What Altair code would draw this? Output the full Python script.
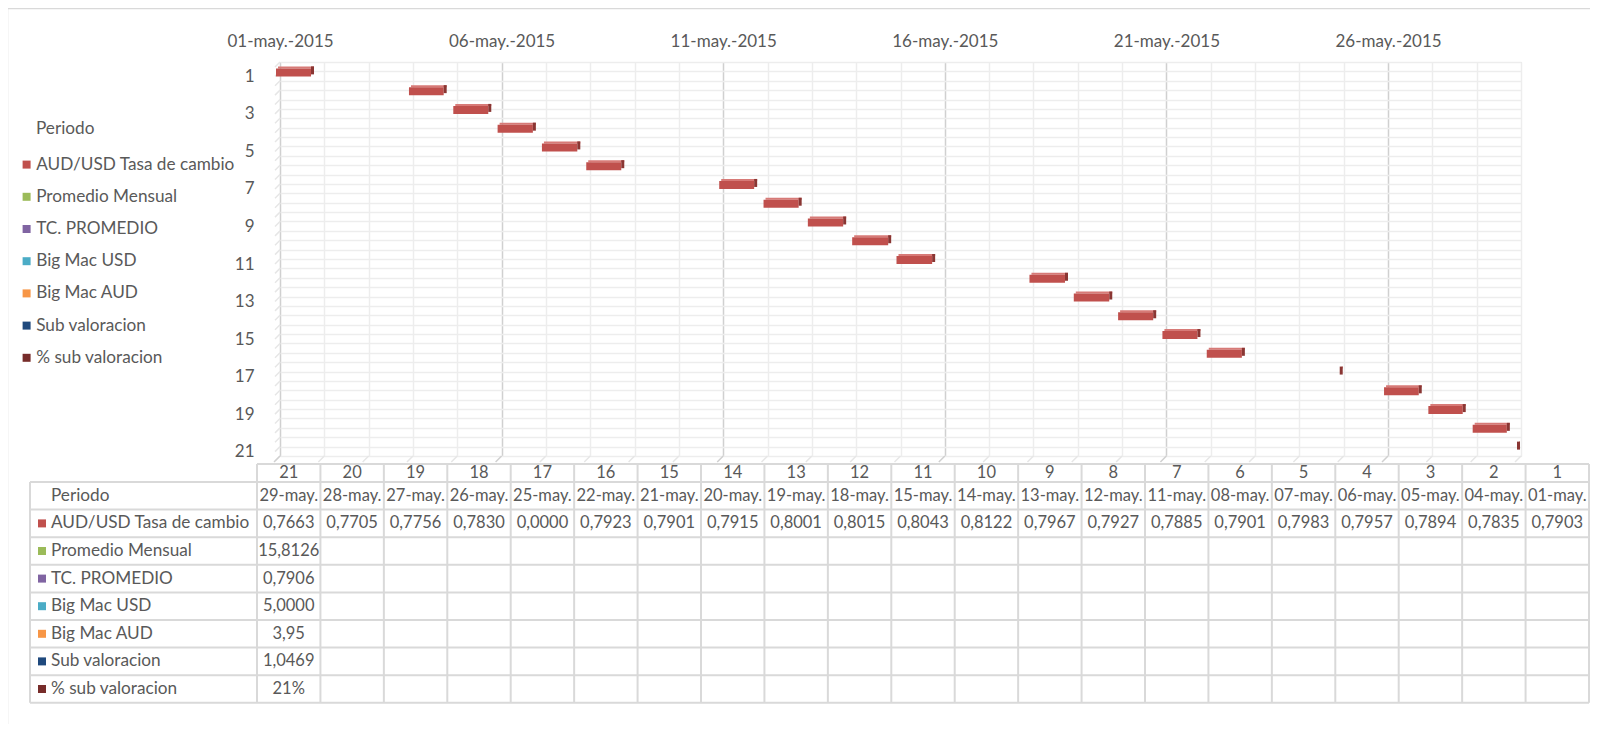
import altair as alt
import pandas as pd
import numpy as np

# ---------------- data ----------------
PERIODOS = list(range(21, 0, -1))
FECHAS = ["29-may.", "28-may.", "27-may.", "26-may.", "25-may.", "22-may.", "21-may.",
          "20-may.", "19-may.", "18-may.", "15-may.", "14-may.", "13-may.", "12-may.",
          "11-may.", "08-may.", "07-may.", "06-may.", "05-may.", "04-may.", "01-may."]
TASA = [0.7663, 0.7705, 0.7756, 0.7830, 0.0000, 0.7923, 0.7901, 0.7915, 0.8001, 0.8015,
        0.8043, 0.8122, 0.7967, 0.7927, 0.7885, 0.7901, 0.7983, 0.7957, 0.7894, 0.7835, 0.7903]
SERIES = ["AUD/USD Tasa de cambio", "Promedio Mensual", "TC. PROMEDIO", "Big Mac USD",
          "Big Mac AUD", "Sub valoracion", "% sub valoracion"]
COLORES = ["#C0504D", "#9BBB59", "#8064A2", "#4BACC6", "#F79646", "#1F497D", "#772C2A"]
RESUMEN_VALORES = [15.8126, 0.7906, 5.0000, 3.95, 1.0469, 0.21]
RESUMEN_DECIMALES = [4, 4, 4, 2, 4, None]
EJE_FECHAS = ["01-may.-2015", "06-may.-2015", "11-may.-2015", "16-may.-2015",
              "21-may.-2015", "26-may.-2015"]

FONT = "Lato"
FS = 16.5
FS_LAB = 17.2
FS_AX = 17
GRIS = "#595959"
LINEA = "#D9D9D9"


def fmt(v, d):
    if d is None:
        return f"{round(v * 100)}%"
    return f"{v:.{d}f}".replace(".", ",")


# ---------------- gantt part ----------------
dias = [int(f.split("-")[0]) for f in FECHAS]
gantt = pd.DataFrame({"periodo": PERIODOS, "ini": dias,
                      "fin": [d + t for d, t in zip(dias, TASA)]})

X_SC = alt.Scale(domain=[1, 29], clamp=True, nice=False, zero=False)
Y_SC = alt.Scale(domain=[0.5, 21.5], reverse=True, nice=False, zero=False)

lab_expr = ("(datum.value - 1) % 5 === 0 ? ["
            + ",".join(f"'{s}'" for s in EJE_FECHAS)
            + "][(datum.value - 1) / 5] : ''")
X_AX = alt.Axis(orient="top", values=list(range(1, 30)), title=None, domain=False,
                ticks=False, tickSize=0, labelExpr=lab_expr, labelFlush=False,
                labelOverlap=False, labelPadding=21, labelBaseline="middle",
                labelFont=FONT, labelFontSize=FS_AX, labelColor=GRIS,
                grid=True, gridWidth=1.5,
                gridColor={"condition": {"test": "(datum.value - 1) % 5 === 0",
                                         "value": "#D0D0D0"},
                           "value": "#EDEDED"})
y_vals = [float(v) for v in np.arange(0.5, 21.51, 0.5)]
Y_AX = alt.Axis(values=y_vals, title=None, domain=False, ticks=False, tickSize=0,
                labelExpr="datum.value % 2 === 1 ? format(datum.value, 'd') : ''",
                labelOverlap=False, labelPadding=26, labelOffset=5,
                labelFont=FONT, labelFontSize=FS_AX, labelColor=GRIS,
                grid=True, gridWidth=1.5, gridColor="#EDEDED")

ex = alt.X("ini:Q", scale=X_SC, axis=X_AX)
ey = alt.Y("periodo:Q", scale=Y_SC, axis=Y_AX)

diag_y_df = pd.DataFrame({"ini": 1, "periodo": y_vals})
diag_x_df = pd.DataFrame({"ini": list(range(1, 30)), "periodo": 21.5})

diag_y = alt.Chart(diag_y_df).mark_rule(color="#E6E6E6", strokeWidth=1.5,
                                        x2Offset=-5, y2Offset=5).encode(
    x=ex, x2=alt.X2("ini"), y=ey, y2=alt.Y2("periodo"))
diag_x = alt.Chart(diag_x_df).mark_rule(strokeWidth=1.5, x2Offset=-6, y2Offset=6).encode(
    x=ex, x2=alt.X2("ini"), y=ey, y2=alt.Y2("periodo"),
    color=alt.condition("(datum.ini - 1) % 5 === 0", alt.value("#D0D0D0"), alt.value("#E6E6E6")))

top_face = alt.Chart(gantt).mark_rect(color="#D77A77", xOffset=-2, x2Offset=-1,
                                      yOffset=-5, y2Offset=-3).encode(
    x=ex, x2=alt.X2("fin"), y=ey, y2=alt.Y2("periodo"))
front = alt.Chart(gantt).mark_rect(color="#C0504D", xOffset=-4, x2Offset=-4,
                                   yOffset=-3, y2Offset=5).encode(
    x=ex, x2=alt.X2("fin"), y=ey, y2=alt.Y2("periodo"))
side = alt.Chart(gantt).mark_rect(color="#8A3633", xOffset=-4, x2Offset=-1,
                                  yOffset=-5, y2Offset=3).encode(
    x=alt.X("fin:Q", scale=X_SC, axis=X_AX), x2=alt.X2("fin"), y=ey, y2=alt.Y2("periodo"))

gantt_layer = alt.layer(diag_y, diag_x, top_face, front, side)

# ---------------- table part ----------------
T_RIGHT = 1309
TX_SC = alt.Scale(domain=[0, 21], range=[-23, T_RIGHT], nice=False, zero=False)
TY_SC = alt.Scale(domain=[0, 8], range=[420, 640.8], nice=False, zero=False)
tx = alt.X("c:Q", scale=TX_SC, axis=None)
ty = alt.Y("r:Q", scale=TY_SC, axis=None)

vlines_df = pd.DataFrame({"c": list(range(22)), "r": 0.0, "r2": 8.0})
hlines_df = pd.DataFrame({"r": list(range(9))})
hdr_top_df = pd.DataFrame({"c": [0], "c2": [21], "r": [0.0]})
lcol_df = pd.DataFrame({"r": [0.0], "r2": [8.0]})

vlines = alt.Chart(vlines_df).mark_rule(color=LINEA, strokeWidth=2, yOffset=-18).encode(
    x=tx, y=ty, y2=alt.Y2("r2"))
hlines = alt.Chart(hlines_df).mark_rule(color=LINEA, strokeWidth=2).encode(
    x=alt.value(-250), x2=alt.value(T_RIGHT), y=ty)
hdr_top = alt.Chart(hdr_top_df).mark_rule(color=LINEA, strokeWidth=2, yOffset=-18).encode(
    x=tx, x2=alt.X2("c2"), y=ty)
lcol = alt.Chart(lcol_df).mark_rule(color=LINEA, strokeWidth=2).encode(
    x=alt.value(-250), y=ty, y2=alt.Y2("r2"))

cols_c = [i + 0.5 for i in range(21)]
hdr_df = pd.DataFrame({"c": cols_c, "r": 0.0, "t": [str(p) for p in PERIODOS]})
cells = [{"c": c, "r": 0.5, "t": f} for c, f in zip(cols_c, FECHAS)]
cells += [{"c": c, "r": 1.5, "t": fmt(v, 4)} for c, v in zip(cols_c, TASA)]
cells += [{"c": 0.5, "r": 2.5 + i, "t": fmt(v, d)}
          for i, (v, d) in enumerate(zip(RESUMEN_VALORES, RESUMEN_DECIMALES))]
cells_df = pd.DataFrame(cells)
labels_df = pd.DataFrame({"r": [i + 0.5 for i in range(8)], "t": ["Periodo"] + SERIES})
squares_df = pd.DataFrame({"r": [i + 1.5 for i in range(7)], "serie": SERIES})

txt = dict(font=FONT, fontSize=FS, color=GRIS, baseline="middle")
txt_lab = dict(font=FONT, fontSize=FS_LAB, color=GRIS, baseline="middle")
hdr = alt.Chart(hdr_df).mark_text(align="center", yOffset=-9, **txt).encode(
    x=tx, y=ty, text="t:N")
cell_txt = alt.Chart(cells_df).mark_text(align="center", **txt).encode(
    x=tx, y=ty, text="t:N")
row_lab = alt.Chart(labels_df).mark_text(align="left", **txt_lab).encode(
    x=alt.value(-229), y=ty, text="t:N")
squares = alt.Chart(squares_df).mark_square(size=64, opacity=1).encode(
    x=alt.value(-238), y=ty,
    color=alt.Color("serie:N", scale=alt.Scale(domain=SERIES, range=COLORES),
                    legend=alt.Legend(orient="none", legendX=-262, legendY=94,
                                      title=None, symbolType="square", symbolSize=64,
                                      symbolStrokeWidth=0, symbolOpacity=1,
                                      labelFont=FONT, labelFontSize=FS_LAB,
                                      labelColor=GRIS, rowPadding=14.2, padding=0,
                                      labelOffset=1, labelLimit=400)))
leg_title = alt.Chart(pd.DataFrame({"t": ["Periodo"]})).mark_text(align="left", **txt_lab).encode(
    x=alt.value(-244), y=alt.value(67), text="t:N")
frame = alt.Chart(pd.DataFrame({"k": [0]})).mark_rect(
    filled=False, color=LINEA, strokeWidth=1.5).encode(
    x=alt.value(-272.5), x2=alt.value(1400), y=alt.value(-53.5), y2=alt.value(720))

tabla_layer = alt.layer(frame, vlines, hlines, hdr_top, lcol, hdr, cell_txt, row_lab,
                        squares, leg_title)

chart = alt.layer(gantt_layer, tabla_layer).resolve_scale(
    x="independent", y="independent"
).properties(
    width=1241, height=394,
    padding={"left": 272, "top": 54, "right": 69, "bottom": 268},
    autosize=alt.AutoSizeParams(type="none"),
).configure_view(stroke=None).configure(font=FONT)

chart.save("out.html", embed_options={"renderer": "svg", "actions": False})
